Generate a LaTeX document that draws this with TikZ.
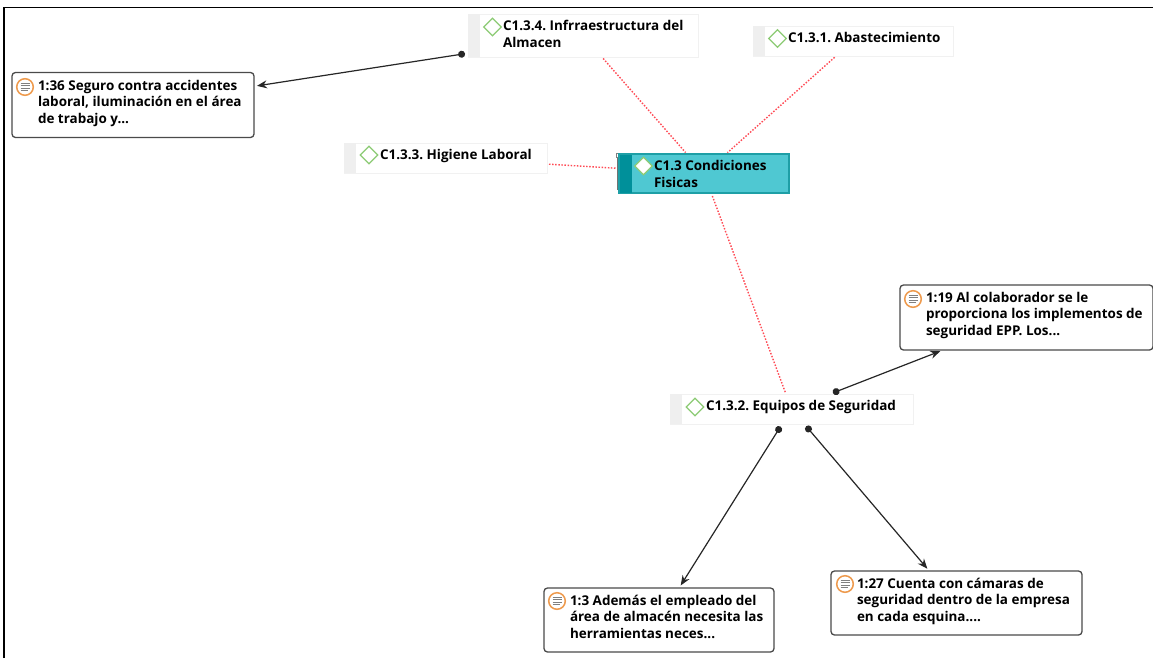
\documentclass[tikz,border=0pt]{standalone}
\usepackage{fontspec}
\setmainfont{Open Sans}
\usetikzlibrary{arrows.meta,shapes.geometric}
\definecolor{stripgray}{HTML}{EFEFEF}
\definecolor{edgegray}{HTML}{F1F1F1}
\definecolor{boxedge}{HTML}{4A4A4A}
\definecolor{corefill}{HTML}{4FC8D2}
\definecolor{coredark}{HTML}{00909A}
\definecolor{coreedge}{HTML}{1E9FA6}
\definecolor{diagreen}{HTML}{8CCB74}
\definecolor{iconorange}{HTML}{EE9A4D}
\definecolor{linkred}{HTML}{FF4B55}
\def\px{0.75pt}
\tikzset{
  code/.style={draw=edgegray,fill=white,line width=1*\px,inner sep=0pt,outer sep=0pt},
  quotebox/.style={draw=boxedge,fill=white,line width=1.3*\px,rounded corners=3.5*\px,inner sep=0pt,outer sep=0pt},
  corebox/.style={draw=coreedge,fill=corefill,line width=1.1*\px,inner sep=0pt,outer sep=0pt},
  lbl/.style={inner sep=0pt,outer sep=0pt,anchor=north west,align=left,text=black,
    font=\frenchspacing\fontsize{10.1pt}{12.4pt}\selectfont\bfseries},
  redlink/.style={draw=linkred,line width=1.4*\px,dash pattern=on 1.5*\px off 1.6*\px,shorten >=2*\px,shorten <=2*\px},
  blacklink/.style={draw=black!85,line width=1.2*\px,{Circle[length=7*\px,width=7*\px]}-{Stealth[length=10*\px,width=8*\px]},shorten >=3*\px,shorten <=3*\px},
  codeicon/.pic={\draw[diagreen,line width=1.3*\px,fill=white] (-8.8,0)--(0,-8.8)--(8.8,0)--(0,8.8)--cycle;},
  noteicon/.pic={
    \draw[iconorange,line width=1.5*\px,fill=white] (0,0) circle (8.3);
    \foreach \a/\b in {-3.5/4.5,-1.2/4.5,1.1/4.5,3.4/2.5}{\draw[black!50,line width=1.1*\px] (-4.5,\a)--(\b,\a);}
  }
}
\begin{document}
\begin{tikzpicture}[x=\px,y=-\px]
\useasboundingbox (0,0) rectangle (1153,658);
\fill[white] (0,0) rectangle (1153,658);
\draw[black,line width=1.6*\px] (4,658)--(4,7.5)--(1153,7.5);

% shadow of the core node
\fill[black!55] (617,153) rectangle (786,156);
\fill[black!55] (617,153) rectangle (620,190);
\draw[black!50,fill=white,line width=.8*\px] (616,153) rectangle (620,157);

% nodes
\node[code,minimum width=230*\px,minimum height=43*\px] (c134) at (583,35.5) {};
\node[code,minimum width=200*\px,minimum height=30*\px] (c131) at (853,41) {};
\node[code,minimum width=203*\px,minimum height=30*\px] (c133) at (445.5,158) {};
\node[code,minimum width=243*\px,minimum height=30*\px] (c132) at (791.5,409) {};
\node[corebox,minimum width=170*\px,minimum height=39*\px] (core) at (704,173.5) {};
\node[quotebox,minimum width=242*\px,minimum height=65*\px] (q136) at (133,105) {};
\node[quotebox,minimum width=253*\px,minimum height=65*\px] (q119) at (1026.5,317.5) {};
\node[quotebox,minimum width=230*\px,minimum height=64*\px] (q103) at (659,620) {};
\node[quotebox,minimum width=251*\px,minimum height=64*\px] (q127) at (956.5,603) {};

% strips
\foreach \n in {c134,c131,c133,c132}{\fill[stripgray] (\n.north west) rectangle ([xshift=12*\px]\n.south west);}
\fill[coredark] ([shift={(.5*\px,-.5*\px)}]core.north west) rectangle ([shift={(13*\px,.5*\px)}]core.south west);

% connectors
\draw[redlink] (c134) -- (core);
\draw[redlink] (c131) -- (core);
\draw[redlink] (c133) -- (core);
\draw[redlink] (c132) -- (core);
\draw[blacklink] (c134) -- (q136);
\draw[blacklink] (c132) -- (q119);
\draw[blacklink] (c132) -- (q103);
\draw[blacklink] (c132) -- (q127);

% icons
\pic at (492.5,27) {codeicon};
\pic at (777.5,38.5) {codeicon};
\pic at (369,155) {codeicon};
\pic at (695,407) {codeicon};
\pic at (643.5,166) {codeicon};
\pic at (25,87) {noteicon};
\pic at (913,299) {noteicon};
\pic at (557,601) {noteicon};
\pic at (845,584) {noteicon};

% labels
\node[lbl] (t134) at (503,20.5) {C1.3.4. Infrraestructura del\\Almacen};
\node[lbl] (t131) at (788,32) {C1.3.1. Abastecimiento};
\node[lbl] (t133) at (380,149) {C1.3.3. Higiene Laboral};
\node[lbl] (t132) at (706,400) {C1.3.2. Equipos de Seguridad};
\node[lbl] (tcore) at (654,160.5) {C1.3 Condiciones\\Fisicas};
\node[lbl] (t136) at (38,80) {1:36 Seguro contra accidentes\\laboral, iluminación en el área\\de trabajo y...};
\node[lbl] (t119) at (926,292) {1:19 Al colaborador se le\\proporciona los implementos de\\seguridad EPP. Los...};
\node[lbl] (t103) at (570,595) {1:3 Además el empleado del\\área de almacén necesita las\\herramientas neces...};
\node[lbl] (t127) at (857,578) {1:27 Cuenta con cámaras de\\seguridad dentro de la empresa\\en cada esquina....};
\end{tikzpicture}
\end{document}
